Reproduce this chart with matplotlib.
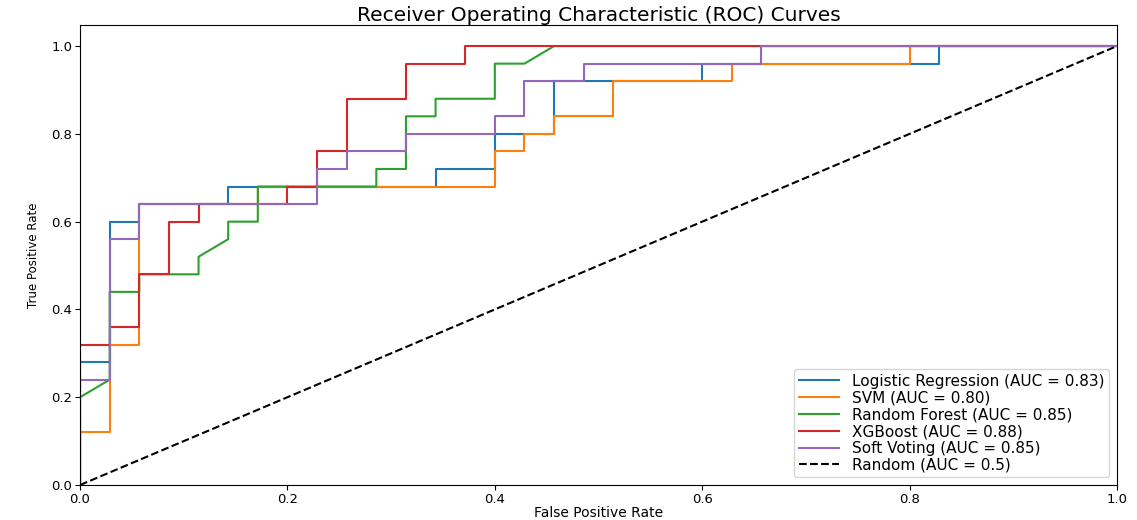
import matplotlib
matplotlib.use("Agg")
import matplotlib.pyplot as plt
import numpy as np

# ROC points: FPR in steps of 1/35, TPR in steps of 1/25
n_neg, n_pos = 35, 25

models = ['Logistic Regression', 'SVM', 'Random Forest', 'XGBoost', 'Soft Voting']
auc_scores = [0.83, 0.80, 0.85, 0.88, 0.85]

lr_fpr = [0, 0, 1, 1, 2, 2, 5, 5, 12, 12, 14, 14, 16, 16, 21, 21, 29, 29, 35]
lr_tpr = [0, 7, 7, 15, 15, 16, 16, 17, 17, 18, 18, 20, 20, 23, 23, 24, 24, 25, 25]

svm_fpr = [0, 0, 1, 1, 2, 2, 6, 6, 14, 14, 15, 15, 16, 16, 18, 18, 22, 22, 28, 28, 35]
svm_tpr = [0, 3, 3, 8, 8, 16, 16, 17, 17, 19, 19, 20, 20, 21, 21, 23, 23, 24, 24, 25, 25]

rf_fpr = [0, 0, 1, 1, 2, 2, 4, 4, 5, 5, 6, 6, 10, 10, 11, 11, 12, 12, 14, 14, 15, 16, 35]
rf_tpr = [0, 5, 6, 11, 11, 12, 12, 13, 14, 15, 15, 17, 17, 18, 18, 21, 21, 22, 22, 24, 24, 25, 25]

xgb_fpr = [0, 0, 1, 1, 2, 2, 3, 3, 4, 4, 7, 7, 8, 8, 9, 9, 11, 11, 13, 13, 35]
xgb_tpr = [0, 8, 8, 9, 9, 12, 12, 15, 15, 16, 16, 17, 17, 19, 19, 22, 22, 24, 24, 25, 25]

sv_fpr = [0, 0, 1, 1, 2, 2, 8, 8, 9, 9, 11, 11, 14, 14, 15, 15, 17, 17, 23, 23, 35]
sv_tpr = [0, 6, 6, 14, 14, 16, 16, 18, 18, 19, 19, 20, 20, 21, 21, 23, 23, 24, 24, 25, 25]

curves = [(lr_fpr, lr_tpr), (svm_fpr, svm_tpr), (rf_fpr, rf_tpr),
          (xgb_fpr, xgb_tpr), (sv_fpr, sv_tpr)]

fig = plt.figure(figsize=(11.37, 5.2), dpi=100)
ax = fig.add_axes([0.0704, 0.0673, 0.9120, 0.8846])

for name, auc, (fx, ty) in zip(models, auc_scores, curves):
    ax.plot(np.array(fx) / n_neg, np.array(ty) / n_pos,
            label=f'{name} (AUC = {auc:.2f})')

ax.plot([0, 1], [0, 1], 'k--', label='Random (AUC = 0.5)')

ax.set_xlim(0, 1)
ax.set_ylim(0, 1.048)
ax.tick_params(labelsize=9.5, pad=2)
ax.set_xlabel('False Positive Rate', fontsize=10, labelpad=0)
ax.set_ylabel('True Positive Rate', fontsize=8.5, labelpad=8)
ax.set_title('Receiver Operating Characteristic (ROC) Curves', fontsize=14.5, pad=3)
ax.legend(loc='lower right', fontsize=11, labelspacing=0.12, handlelength=2.6,
          handletextpad=0.9, borderpad=0.3)

fig.savefig('out.png')
